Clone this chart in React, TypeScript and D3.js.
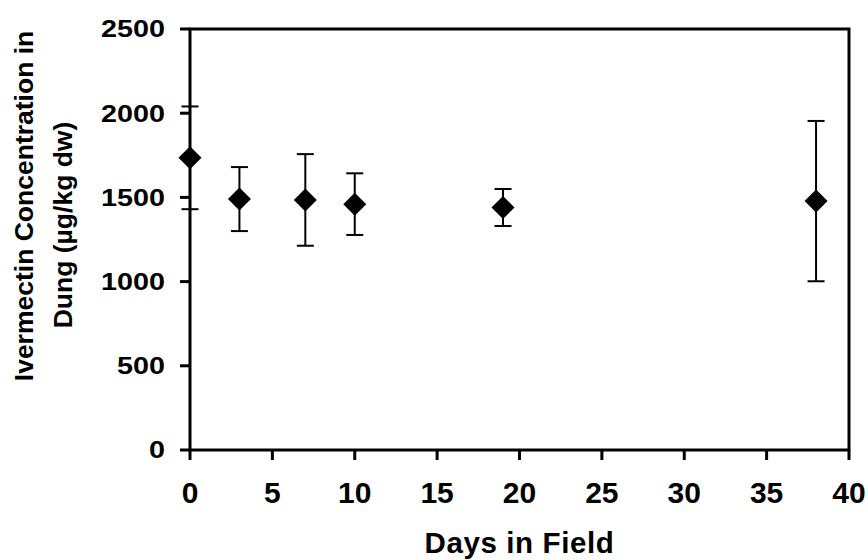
import React from "react";
import * as d3 from "d3";

// Ivermectin residue in dung pats over time in the field
const days = [0, 3, 7, 10, 19, 38];
const concentration = [1735, 1490, 1485, 1460, 1440, 1478];
const errorSD = [305, 190, 272, 183, 110, 476];

const xTicks = [0, 5, 10, 15, 20, 25, 30, 35, 40];
const yTicks = [0, 500, 1000, 1500, 2000, 2500];

const W = 868;
const H = 560;
const margin = { left: 190, right: 19, top: 29, bottom: 110 };
const FONT = "Liberation Sans, Arial, Helvetica, sans-serif";

export default function App() {
  const x = d3.scaleLinear().domain([0, 40]).range([margin.left, W - margin.right]);
  const y = d3.scaleLinear().domain([0, 2500]).range([H - margin.bottom, margin.top]);
  const [x0, x1] = x.range();
  const [yb, yt] = y.range();
  const half = 11.5;
  const cap = 8.5;

  return (
    <svg
      width={W}
      height={H}
      style={{ position: "absolute", left: 0, top: 0, background: "#fff" }}
      fontFamily={FONT}
    >
      <rect x={0} y={0} width={W} height={H} fill="#fff" />

      {/* error bars */}
      {days.map((d, i) => {
        const cx = x(d);
        const hi = y(concentration[i] + errorSD[i]);
        const lo = y(concentration[i] - errorSD[i]);
        return (
          <g key={"e" + i} stroke="#000" strokeWidth={2}>
            <line x1={cx} x2={cx} y1={hi} y2={lo} />
            <line x1={cx - cap} x2={cx + cap} y1={hi} y2={hi} />
            <line x1={cx - cap} x2={cx + cap} y1={lo} y2={lo} />
          </g>
        );
      })}

      {/* plot frame */}
      <rect x={x0} y={yt} width={x1 - x0} height={yb - yt} fill="none" stroke="#000" strokeWidth={3} />

      {/* y axis ticks and labels */}
      {yTicks.map((t) => (
        <g key={"y" + t}>
          <line x1={x0 - 10} x2={x0} y1={y(t)} y2={y(t)} stroke="#000" strokeWidth={3} />
          <text
            transform={`translate(${x0 - 25},${y(t) + 8.3}) scale(1.25,1)`}
            textAnchor="end"
            fontSize={23}
            fontWeight="bold"
          >
            {t}
          </text>
        </g>
      ))}

      {/* x axis ticks and labels */}
      {xTicks.map((t) => (
        <g key={"x" + t}>
          <line x1={x(t)} x2={x(t)} y1={yb} y2={yb + 10} stroke="#000" strokeWidth={3} />
          <text x={x(t)} y={503} textAnchor="middle" fontSize={30} fontWeight="bold">
            {t}
          </text>
        </g>
      ))}

      {/* markers */}
      {days.map((d, i) => {
        const cx = x(d);
        const cy = y(concentration[i]);
        return (
          <path
            key={"m" + i}
            d={`M${cx},${cy - half}L${cx + half},${cy}L${cx},${cy + half}L${cx - half},${cy}Z`}
            fill="#000"
          />
        );
      })}

      {/* axis titles */}
      <text
        x={(x0 + x1) / 2}
        y={553}
        textAnchor="middle"
        fontSize={29.5}
        fontWeight="bold"
        letterSpacing={0.6}
      >
        Days in Field
      </text>
      <text
        transform={`translate(33,206) rotate(-90)`}
        textAnchor="middle"
        fontSize={26.5}
        fontWeight="bold"
      >
        Ivermectin Concentration in
      </text>
      <text
        transform={`translate(72,225) rotate(-90)`}
        textAnchor="middle"
        fontSize={26.5}
        fontWeight="bold"
      >
        Dung (µg/kg dw)
      </text>
    </svg>
  );
}
